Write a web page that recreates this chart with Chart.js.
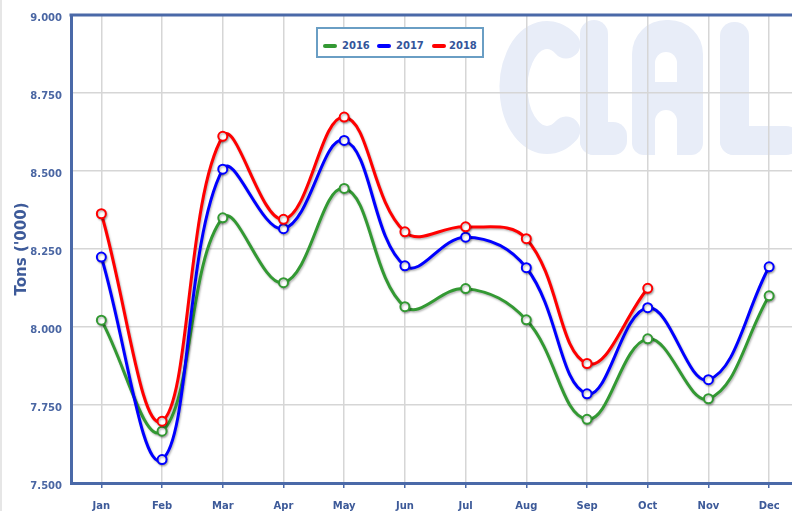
<!DOCTYPE html>
<html><head><meta charset="utf-8">
<script src="https://cdn.jsdelivr.net/npm/chart.js@4.4.1/dist/chart.umd.min.js"></script>
<style>
html,body{margin:0;padding:0;background:#fff;overflow:hidden;width:792px;height:511px}
#wrap{position:absolute;left:0;top:0;width:806px;height:511px}
#edge{position:absolute;left:0;top:0;width:2px;height:511px;background:#e6e6e6}
#legend{position:absolute;left:316px;top:27px;width:164px;height:27px;border:2px solid #6a9ec4;background:#fff;font:bold 10px 'DejaVu Sans',sans-serif;color:#34559a}
#legend .t{position:absolute;top:11px;line-height:12px;white-space:nowrap}
#legend .s{position:absolute;top:15px;width:14px;height:4px;border-radius:2px}
</style>
</head><body>
<div id="wrap"><canvas id="c" width="806" height="511"></canvas></div>
<div id="edge"></div>
<div id="legend"></div>
<script>
const categories = ['Jan','Feb','Mar','Apr','May','Jun','Jul','Aug','Sep','Oct','Nov','Dec'];
const seriesNames = ['2016','2017','2018'];
const seriesColors = ['#339933','#0000ff','#ff0000'];
const values2016 = [8022,7666,8350,8142,8444,8065,8123,8023,7704,7962,7770,8100];
const values2017 = [8224,7575,8506,8315,8598,8196,8288,8190,7786,8062,7831,8193];
const values2018 = [8363,7698,8611,8345,8673,8305,8321,8283,7883,8124,null,null];
const yMin = 7500, yMax = 9000, yStep = 250;
const yTitle = "Tons ('000)";

// HTML legend
const legendEl = document.getElementById('legend');
const swLeft = [5, 59, 114];
const txLeft = [24, 78, 131];
seriesNames.forEach((n, i) => {
  const s = document.createElement('div');
  s.className = 's'; s.style.left = swLeft[i] + 'px'; s.style.background = seriesColors[i];
  legendEl.appendChild(s);
  const t = document.createElement('div');
  t.className = 't'; t.style.left = txLeft[i] + 'px'; t.textContent = n;
  legendEl.appendChild(t);
});

const axisColor = '#4a69a8';
const textColor = '#3d5a99';

// Decorative "CLAL" logo watermark drawn as rounded shapes
const watermark = {
  id: 'watermark',
  beforeDraw(chart) {
    const ctx = chart.ctx;
    const wm = '#e8edf8';
    ctx.save();
    ctx.fillStyle = wm;
    ctx.strokeStyle = wm;
    // C
    ctx.lineWidth = 28;
    ctx.lineCap = 'round';
    ctx.beginPath();
    ctx.ellipse(547, 87.5, 33.5, 52.5, 0, -55 * Math.PI / 180, 55 * Math.PI / 180, true);
    ctx.stroke();
    // first L
    ctx.beginPath(); ctx.roundRect(580, 20, 28, 135, 14); ctx.fill();
    ctx.beginPath(); ctx.roundRect(580, 122, 47, 33, 14); ctx.fill();
    // A
    ctx.beginPath(); ctx.roundRect(632, 20, 71, 135, [34, 34, 12, 12]); ctx.fill();
    ctx.fillStyle = '#ffffff';
    ctx.beginPath(); ctx.roundRect(655, 52, 22, 30, [11, 11, 0, 0]); ctx.fill();
    ctx.beginPath(); ctx.roundRect(655, 110, 22, 46, [11, 11, 0, 0]); ctx.fill();
    ctx.fillStyle = wm;
    // second L
    ctx.beginPath(); ctx.roundRect(720, 22, 29, 133, 14); ctx.fill();
    ctx.beginPath(); ctx.roundRect(720, 126, 80, 29, 14); ctx.fill();
    ctx.restore();
  }
};

const topBorder = {
  id: 'topBorder',
  afterDraw(chart) {
    const {ctx, chartArea} = chart;
    ctx.save();
    ctx.strokeStyle = axisColor;
    ctx.lineWidth = 3;
    ctx.beginPath();
    ctx.moveTo(chartArea.left - 1.5, chartArea.top);
    ctx.lineTo(chart.width, chartArea.top);
    ctx.stroke();
    ctx.restore();
  }
};

const shadow = {
  id: 'shadow',
  beforeDatasetDraw(chart) {
    const ctx = chart.ctx;
    ctx.save();
    ctx.shadowColor = 'rgba(0,0,0,0.28)';
    ctx.shadowBlur = 2;
    ctx.shadowOffsetX = 1;
    ctx.shadowOffsetY = 1.5;
  },
  afterDatasetDraw(chart) {
    chart.ctx.restore();
  }
};

const seriesValues = [values2016, values2017, values2018];
new Chart(document.getElementById('c'), {
  type: 'line',
  data: {
    labels: categories,
    datasets: seriesNames.map((n, i) => ({
      label: n,
      data: seriesValues[i],
      borderColor: seriesColors[i],
      backgroundColor: '#ffffff',
      pointBackgroundColor: '#ffffff',
      pointBorderColor: seriesColors[i],
      pointBorderWidth: 2,
      pointRadius: 4.5,
      borderWidth: 3,
      tension: 0.4,
      spanGaps: false,
      fill: false,
      order: 2 - i
    }))
  },
  options: {
    responsive: false,
    devicePixelRatio: 1,
    animation: false,
    layout: { padding: { top: 13, left: 0, right: 0, bottom: 0 } },
    plugins: { legend: { display: false }, tooltip: { enabled: false } },
    scales: {
      x: {
        type: 'category',
        offset: true,
        grid: { color: '#d6d6d6', lineWidth: 1.5, drawTicks: true, tickLength: 5, tickColor: axisColor, tickWidth: 1.5 },
        border: { color: axisColor, width: 3 },
        ticks: { color: textColor, font: { family: 'DejaVu Sans', size: 10, weight: 'bold' }, padding: 12, maxRotation: 0, autoSkip: false },
        afterFit(s) { s.height = 28; }
      },
      y: {
        min: yMin, max: yMax,
        grid: { color: '#d6d6d6', lineWidth: 1.5, drawTicks: false },
        border: { color: axisColor, width: 3 },
        ticks: {
          stepSize: yStep,
          color: '#4a66a3',
          font: { family: 'DejaVu Sans', size: 10, weight: 'bold' },
          padding: 9,
          labelOffset: 3,
          callback: v => (v / 1000).toFixed(3)
        },
        title: {
          display: true,
          text: yTitle,
          color: textColor,
          font: { family: 'DejaVu Sans', size: 15, weight: 'bold' },
          padding: { top: 13, bottom: 0 }
        },
        afterFit(s) { s.width = 71; }
      }
    }
  },
  plugins: [watermark, shadow, topBorder]
});
</script>
</body></html>
